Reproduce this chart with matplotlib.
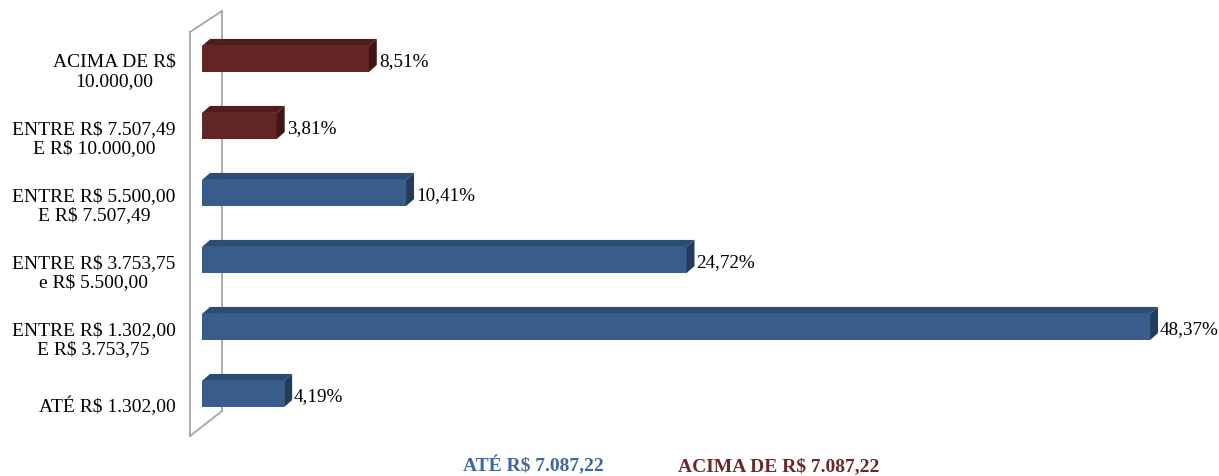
import matplotlib.pyplot as plt
import matplotlib.transforms as mtransforms
from matplotlib.patches import Polygon, Patch
from matplotlib.lines import Line2D

# categories from bottom to top
categories = ["ATÉ R$ 1.302,00",
              "ENTRE R$ 1.302,00\nE R$ 3.753,75",
              "ENTRE R$ 3.753,75\ne R$ 5.500,00",
              "ENTRE R$ 5.500,00\nE R$ 7.507,49",
              "ENTRE R$ 7.507,49\nE R$ 10.000,00",
              "ACIMA DE R$\n10.000,00"]
values = [4.19, 48.37, 24.72, 10.41, 3.81, 8.51]
value_labels = ["4,19%", "48,37%", "24,72%", "10,41%", "3,81%", "8,51%"]
groups = ["low", "low", "low", "low", "high", "high"]
legend_labels = ["ATÉ R$ 7.087,22", "ACIMA DE R$ 7.087,22"]

# colours: front, top, side
colors = {"low": ("#385D8A", "#2D4C73", "#233C5C"),
          "high": ("#632523", "#501D1C", "#401615")}
legend_colors = ["#3E679C", "#6B2826"]

plt.rcParams['font.family'] = ['Liberation Serif', 'DejaVu Serif']

W, H = 1219, 477
fig = plt.figure(figsize=(W / 100, H / 100), dpi=100)
ax = fig.add_axes([202 / W, 48.5 / H, 999.6 / W, 402 / H])
ax.set_xlim(0, 51)
ax.set_ylim(-0.5, 5.5)
ax.patch.set_visible(False)
for s in ax.spines.values():
    s.set_visible(False)
ax.set_xticks([])

dx, dy = 8, 7  # depth offset in pixels
bar_h = 0.39


def shifted(x, y):
    px, py = ax.transData.transform((x, y))
    return ax.transData.inverted().transform((px + dx, py + dy))


# wall (drawn in figure pixels)
def fp(x, y):
    return (x / W, (H - y) / H)

wall_col = "#A6A6A6"
for (x1, y1), (x2, y2) in [((190, 33), (222, 12)), ((190, 33), (190, 437)),
                           ((190, 437), (222, 412)), ((222, 12), (222, 412))]:
    a, b = fp(x1, y1), fp(x2, y2)
    fig.add_artist(Line2D([a[0], b[0]], [a[1], b[1]], color=wall_col, lw=1.3, zorder=0))

ypos = list(range(len(values)))
front_cols = [colors[g][0] for g in groups]
ax.barh(ypos, values, height=bar_h, color=front_cols, zorder=3)

for y, v, g, lab in zip(ypos, values, groups, value_labels):
    _, top_c, side_c = colors[g]
    yt, yb = y + bar_h / 2, y - bar_h / 2
    top = [(0, yt), shifted(0, yt), shifted(v, yt), (v, yt)]
    side = [(v, yb), (v, yt), shifted(v, yt), shifted(v, yb)]
    ax.add_patch(Polygon(top, closed=True, color=top_c, lw=0, zorder=3))
    ax.add_patch(Polygon(side, closed=True, color=side_c, lw=0, zorder=3))
    lx, _ = ax.transData.inverted().transform(ax.transData.transform((v, y)) + [10, 0])
    ax.text(lx, y - 0.03, lab, fontsize=13.8, va='center', ha='left', zorder=4)

ax.set_yticks(ypos)
ax.set_yticklabels(categories, fontsize=14)
ax.tick_params(axis='y', length=0, pad=19)
off = mtransforms.ScaledTranslation(0, -9 / 100, fig.dpi_scale_trans)
for t in ax.get_yticklabels():
    t.set_multialignment('center')
    t.set_linespacing(1.13)
    t.set_transform(t.get_transform() + off)

handles = [Patch(visible=False) for _ in legend_labels]
leg = fig.legend(handles, legend_labels, loc='center', bbox_to_anchor=(671 / W, 11 / H),
                 ncol=2, frameon=False, handlelength=0, handletextpad=0,
                 columnspacing=3.8, prop={'weight': 'bold', 'size': 14})
for t, c in zip(leg.get_texts(), legend_colors):
    t.set_color(c)

fig.savefig("out.png", dpi=100)
